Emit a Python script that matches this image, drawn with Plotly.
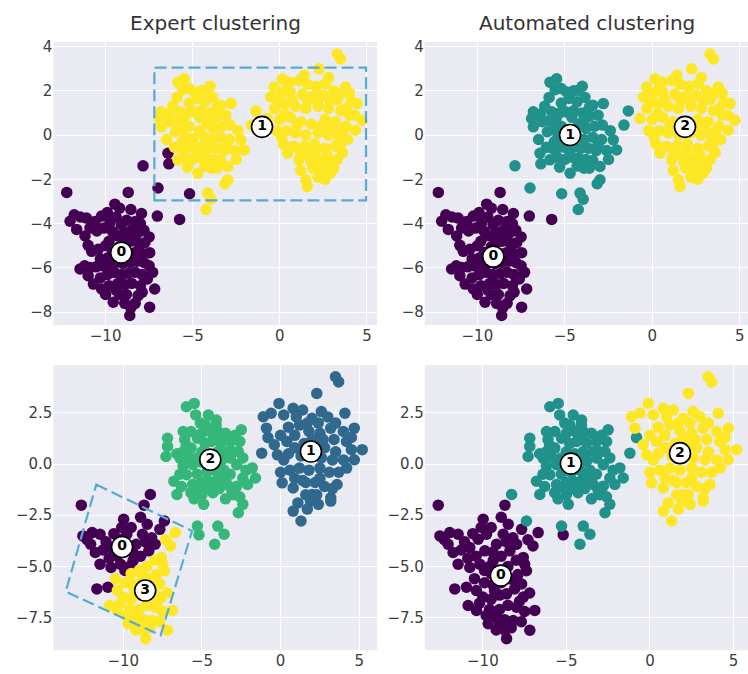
import plotly.graph_objects as go

FONT = "DejaVu Sans"
TEXT_COLOR = "#3c3c3c"
RECT_COLOR = "#55acd2"

VIRIDIS2 = ["#440154", "#fde725"]
VIRIDIS3 = ["#440154", "#21918c", "#fde725"]
VIRIDIS4 = ["#440154", "#31688e", "#35b779", "#fde725"]

# ---------------- upper sample: groups keyed by (expert label, automated label)
TOP_E0_A0 = [
    (-12.23, -2.59), (-8.70, -2.59), (-9.47, -3.12), (-8.55, -3.36), (-7.94, -3.54), (-7.03, -3.66), (-5.75, -3.81),
    (-12.04, -3.89), (-11.45, -3.70), (-11.10, -3.75), (-11.66, -4.26), (-11.18, -4.56), (-11.00, -4.98), (-10.42, -5.16),
    (-10.80, -5.25), (-10.23, -3.66), (-9.90, -3.50), (-9.75, -3.95), (-10.10, -4.20), (-10.50, -4.33), (-9.40, -3.70),
    (-9.10, -4.05), (-8.80, -3.85), (-8.30, -3.90), (-9.60, -4.35), (-9.30, -4.55), (-8.90, -4.40), (-8.50, -4.30),
    (-8.13, -4.41), (-7.80, -4.30), (-7.75, -4.86), (-8.10, -4.90), (-8.60, -4.80), (-9.00, -4.90), (-9.80, -4.80),
    (-10.00, -5.00), (-7.47, -5.31), (-7.90, -5.35), (-8.30, -5.30), (-8.70, -5.35), (-9.60, -5.30), (-9.90, -5.55),
    (-10.30, -5.60), (-11.47, -6.05), (-10.90, -5.98), (-10.55, -5.95), (-10.20, -5.90), (-9.80, -5.85), (-9.40, -5.75),
    (-9.00, -5.80), (-8.60, -5.75), (-8.20, -5.70), (-7.80, -5.75), (-7.50, -5.90), (-10.70, -6.73), (-10.30, -6.45),
    (-9.90, -6.30), (-9.50, -6.20), (-9.10, -6.30), (-8.70, -6.25), (-8.30, -6.20), (-7.90, -6.30), (-7.60, -6.50),
    (-10.23, -6.95), (-9.80, -6.80), (-9.30, -6.70), (-8.90, -6.75), (-8.50, -6.70), (-8.00, -6.80), (-7.18, -6.95),
    (-9.56, -7.55), (-9.20, -7.20), (-8.80, -7.20), (-8.13, -7.25), (-8.90, -7.60), (-8.55, -7.80), (-8.61, -8.15),
    (-7.47, -7.77), (-7.75, -6.50), (-11.80, -3.60), (-10.60, -3.90), (-9.20, -3.30), (-8.00, -4.00), (-7.50, -4.60),
    (-7.30, -6.20), (-10.90, -4.20), (-11.20, -5.90), (-10.00, -7.20), (-9.40, -7.00), (-8.30, -7.60), (-7.90, -7.10),
    (-11.00, -6.35), (-9.20, -5.05), (-8.40, -4.60),
]
TOP_E0_A1 = [(-7.85, -1.39), (-6.42, -0.82), (-6.37, -1.30), (-6.99, -2.39), (-5.18, -2.65)]
TOP_E1_A1 = [
    (-5.85, 2.39), (-5.47, 2.54), (-5.55, 2.05), (-4.90, 1.95), (-4.50, 2.00), (-4.23, 2.02), (-4.75, 1.65),
    (-5.20, 1.45), (-4.30, 1.50), (-3.85, 1.70), (-3.40, 1.35), (-2.80, 1.42), (-6.15, 1.30), (-5.75, 1.05),
    (-6.80, 1.05), (-6.90, 0.75), (-6.80, 0.37), (-6.30, 0.60), (-5.90, 0.65), (-5.50, 0.75), (-4.95, 1.05),
    (-4.50, 1.10), (-4.00, 1.00), (-3.60, 0.85), (-3.10, 0.90), (-2.85, 0.45), (-3.30, 0.40), (-1.37, 1.09),
    (-1.62, 0.45), (-6.00, 0.15), (-5.60, 0.25), (-5.20, 0.40), (-4.20, 0.50), (-3.80, 0.30), (-5.40, -0.10),
    (-4.95, -0.15), (-4.30, -0.10), (-3.90, -0.20), (-3.40, -0.10), (-2.90, -0.20), (-2.23, -0.22), (-6.05, -0.55),
    (-5.70, -0.60), (-5.30, -0.55), (-4.90, -0.60), (-4.50, -0.55), (-4.10, -0.60), (-3.65, -0.60), (-3.20, -0.70),
    (-2.60, -0.70), (-2.04, -0.67), (-5.85, -1.12), (-5.45, -1.00), (-5.00, -1.10), (-4.60, -1.00), (-4.20, -1.05),
    (-3.80, -1.10), (-3.40, -1.15), (-2.99, -1.42), (-5.30, -1.45), (-4.70, -1.72), (-4.30, -1.40), (-3.60, -1.50),
    (-2.99, -2.02), (-3.15, -2.20), (-4.13, -2.62), (-3.95, -2.90), (-4.23, -3.36), (-5.90, 1.70), (-5.20, 2.10),
    (-5.30, 1.00), (-4.60, 0.80), (-3.90, 0.65), (-4.60, 0.20), (-3.10, -0.45), (-2.50, -1.10), (-3.90, -1.50),
    (-5.60, -0.30), (-6.50, -0.20), (-6.40, 0.95), (-2.40, 0.20), (-3.60, 1.25), (-4.00, 2.20),
]
TOP_E1_A2 = [
    (3.30, 3.66), (3.49, 3.44), (2.25, 2.99), (2.63, 2.32), (3.77, 2.17), (0.15, 2.54), (0.55, 2.40), (1.10, 2.45),
    (1.60, 2.30), (2.10, 2.20), (3.10, 2.00), (-0.32, 2.17), (-0.51, 1.72), (0.10, 1.90), (0.60, 1.95), (1.30, 1.85),
    (1.90, 1.75), (2.50, 1.80), (3.30, 1.60), (4.10, 1.50), (4.44, 1.42), (-0.70, 0.75), (-0.30, 1.20), (0.30, 1.40),
    (0.90, 1.30), (1.50, 1.20), (2.20, 1.30), (2.80, 1.20), (3.50, 1.10), (4.00, 0.90), (0.00, 0.70), (0.60, 0.80),
    (1.20, 0.60), (2.60, 0.70), (3.20, 0.60), (3.80, 0.40), (4.72, 0.67), (4.34, 0.22), (-0.20, 0.20), (0.40, 0.20),
    (0.90, 0.10), (1.50, 0.00), (2.20, 0.10), (2.80, 0.00), (3.40, -0.10), (3.90, -0.20), (0.20, -0.40), (0.80, -0.50),
    (1.40, -0.50), (2.00, -0.40), (2.60, -0.60), (3.20, -0.50), (3.60, -0.80), (0.44, -0.82), (1.10, -1.12),
    (1.70, -0.95), (2.30, -1.10), (2.80, -1.20), (3.30, -1.10), (3.10, -1.50), (2.91, -1.72), (2.40, -1.60),
    (1.90, -1.50), (1.49, -2.02), (1.58, -2.32), (2.20, -1.90), (2.60, -2.00), (0.40, 2.10), (1.40, 2.70),
    (2.80, 2.60), (3.60, 1.90), (-0.10, 1.50), (0.70, 1.60), (1.60, 1.55), (2.20, 1.60), (2.90, 1.55), (3.80, 1.20),
    (0.30, 0.95), (1.00, 0.45), (1.80, 0.50), (2.40, 0.40), (3.00, 0.30), (3.60, 0.15), (4.30, 0.90), (0.10, -0.10),
    (1.20, -0.80), (2.00, -0.75), (2.70, -0.90), (3.50, -0.40), (1.80, -1.20), (2.50, -1.35), (1.20, -1.60),
    (4.00, 1.90),
]

# ---------------- lower sample: groups keyed by (expert label, automated label)
BOT_E0_A0 = [
    (-12.67, -2.01), (-8.68, -2.01), (-9.98, -2.70), (-8.48, -2.94), (-7.68, -3.19), (-12.57, -3.51), (-11.98, -3.35),
    (-11.48, -3.43), (-12.08, -3.92), (-11.78, -4.32), (-11.48, -4.89), (-10.78, -5.05), (-10.28, -3.67), (-10.78, -4.08),
    (-9.88, -4.24), (-9.18, -3.92), (-9.78, -3.43), (-7.98, -3.92), (-8.78, -3.43), (-10.18, -4.89), (-9.38, -4.72),
    (-8.38, -4.24), (-11.68, -6.10), (-10.98, -6.02), (-11.10, -3.80), (-10.40, -4.50), (-9.60, -5.00), (-8.90, -4.50),
    (-8.20, -3.60), (-9.50, -3.10), (-12.30, -3.70), (-11.30, -4.20), (-10.60, -3.40), (-9.40, -4.30), (-8.60, -3.80),
    (-10.10, -3.10), (-8.90, -2.60), (-10.90, -4.60), (-9.90, -5.20),
]
BOT_E3_A0 = [
    (-6.69, -3.35), (-7.58, -4.56), (-7.39, -5.21), (-7.68, -5.86), (-10.38, -6.18), (-10.88, -6.91), (-10.38, -7.15),
    (-9.68, -7.80), (-9.18, -7.48), (-8.68, -8.12), (-8.58, -8.53), (-8.18, -7.64), (-7.19, -8.12), (-6.89, -7.15),
    (-7.58, -6.50), (-7.98, -6.99), (-8.58, -6.34), (-9.50, -5.35), (-9.00, -5.20), (-8.50, -5.00), (-8.00, -4.70),
    (-7.90, -5.40), (-8.40, -5.60), (-8.90, -5.80), (-9.40, -5.90), (-9.90, -5.80), (-10.00, -6.50), (-9.50, -6.60),
    (-9.00, -6.40), (-8.50, -6.90), (-9.00, -7.10), (-9.60, -7.10), (-7.50, -7.20), (-8.10, -6.10), (-7.20, -6.30),
    (-7.00, -4.00), (-7.30, -3.70), (-10.50, -5.60), (-8.70, -7.60), (-9.20, -8.10), (-9.80, -7.40), (-8.30, -8.00),
    (-7.70, -7.70), (-8.00, -5.90), (-7.50, -4.90), (-9.30, -6.20), (-10.20, -6.80), (-8.80, -5.40), (-7.80, -6.70),
    (-9.00, -7.80),
]
BOT_E2_A0 = [(-5.19, -3.46)]
BOT_E0_A1 = [(-8.28, -1.49), (-7.39, -2.78)]
BOT_E2_A1 = [
    (-5.99, 2.80), (-5.49, 2.96), (-4.59, 2.39), (-4.09, 2.15), (-4.79, 1.91), (-4.49, 1.59), (-3.99, 1.59),
    (-6.19, 1.59), (-7.19, 1.26), (-7.19, 0.86), (-7.29, 0.37), (-5.69, 1.59), (-5.29, 1.26), (-5.69, 0.78),
    (-4.39, 1.10), (-3.79, 1.02), (-3.19, 1.10), (-2.50, 1.67), (-2.59, 1.10), (-2.69, 0.61), (-6.39, 0.29),
    (-5.89, 0.37), (-5.59, -0.03), (-3.79, 0.13), (-3.19, 0.29), (-2.79, -0.03), (-1.80, -0.19), (-1.60, -0.68),
    (-6.79, -0.84), (-6.59, -1.49), (-5.99, -0.52), (-5.59, -1.00), (-5.19, -1.17), (-4.59, -0.84), (-3.99, -0.68),
    (-3.39, -1.00), (-2.79, -1.08), (-2.40, -0.68), (-4.89, -1.97), (-2.40, -1.97), (-2.69, -2.38), (-5.29, -3.03),
    (-3.99, -3.03), (-3.59, -3.43), (-4.19, -3.92), (-5.00, 0.60), (-4.50, 0.50), (-4.20, 0.10), (-5.10, 0.10),
    (-4.70, -0.40), (-5.30, -0.50), (-4.20, -0.30), (-3.60, -0.30), (-3.40, 0.60), (-4.00, 0.60), (-6.20, -0.10),
    (-6.60, 0.50), (-6.00, 0.90), (-5.00, 1.50), (-4.10, 1.90), (-3.50, 1.50), (-3.00, 0.60), (-6.30, -1.10),
    (-5.70, -1.40), (-4.30, -1.40), (-3.90, -1.20), (-3.00, -1.50), (-5.00, -1.50), (-2.20, -0.30), (-3.20, -0.50),
    (-5.40, 2.40), (-5.10, 2.00), (-6.10, 1.20), (-4.80, 1.00), (-4.10, 1.25), (-2.90, 1.40), (-6.20, 0.60),
    (-5.30, 0.30), (-3.90, 0.35), (-2.40, 0.30), (-6.40, -0.50), (-5.00, -0.90), (-4.30, -0.90), (-3.60, -0.80),
    (-3.10, -1.30), (-2.10, -1.00), (-4.70, -1.20), (-5.50, -1.70), (-3.50, -1.70), (-2.60, -1.60),
]
BOT_E1_A1 = [(-0.80, 1.29), (-1.20, 0.53)]
BOT_E1_A2 = [
    (3.49, 4.26), (3.69, 4.01), (2.30, 3.45), (4.09, 2.48), (2.59, 2.56), (-0.10, 2.96), (-0.60, 2.48), (-1.10, 2.31),
    (-0.90, 1.75), (0.80, 2.72), (1.40, 2.64), (2.00, 2.23), (4.69, 1.75), (5.19, 0.70), (4.69, 0.21), (0.10, -0.92),
    (0.80, -1.17), (2.00, -1.49), (3.59, -1.00), (3.19, -1.65), (2.40, -1.97), (0.80, -2.30), (1.30, -2.78),
    (3.99, 1.59), (3.19, 1.75), (4.19, 1.10), (-0.40, 0.94), (-0.20, 0.45), (0.40, 1.10), (0.50, 1.80), (1.20, 1.90),
    (1.80, 1.60), (2.50, 1.50), (3.00, 2.30), (0.20, 0.20), (0.90, 0.80), (1.50, 1.00), (2.20, 0.90), (2.80, 0.80),
    (3.50, 0.60), (4.00, 0.20), (0.60, -0.30), (1.20, -0.20), (1.80, -0.30), (2.50, -0.20), (3.10, -0.40),
    (3.70, -0.40), (1.40, -0.80), (2.20, -0.90), (2.80, -1.10), (1.60, -1.50), (1.70, -2.20), (3.19, -1.81),
    (0.20, 2.40), (1.00, 2.30), (1.70, 2.00), (2.40, 2.00), (3.50, 2.00), (0.00, 1.40), (0.90, 1.40), (2.00, 1.20),
    (2.70, 1.20), (3.40, 1.20), (4.50, 1.30), (0.50, 0.50), (1.30, 0.40), (2.60, 0.30), (3.30, 0.20), (4.50, 0.70),
    (0.00, -0.40), (0.90, -0.70), (1.60, -0.90), (2.50, -0.70), (3.30, -1.20), (2.30, -1.50), (1.10, -1.90),
    (1.90, -1.80), (4.20, -0.20),
]

# cluster-id badges
TOP_EXPERT_CENTERS = [(-9.10, -5.31), (-1.02, 0.37)]
TOP_AUTO_CENTERS = [(-9.09, -5.49), (-4.70, 0.00), (1.87, 0.37)]
BOT_EXPERT_CENTERS = [(-10.08, -4.05), (1.93, 0.61), (-4.47, 0.21), (-8.61, -6.18)]
BOT_AUTO_CENTERS = [(-8.92, -5.45), (-4.73, 0.02), (1.80, 0.53)]

# hand-drawn expert regions
TOP_EXPERT_BOX = (-7.2, -2.95, 4.95, 3.05)
BOT_EXPERT_BOX = [(-11.72, -1.00), (-5.63, -3.27), (-7.63, -8.37), (-13.66, -6.23)]

TOP_X_TICKS = [-10, -5, 0, 5]
TOP_Y_TICKS = [-8, -6, -4, -2, 0, 2, 4]
BOT_Y_TICKS = [-7.5, -5.0, -2.5, 0.0, 2.5]

# panel layout: (axis suffix, x domain, y domain, x range, y range)
PANELS = {
    "tl": ("", [0.0713, 0.504], [0.5208, 0.9432], [-13.0, 5.58], [-8.58, 4.2]),
    "tr": ("2", [0.568, 1.0], [0.5208, 0.9432], [-13.0, 5.47], [-8.58, 4.2]),
    "bl": ("3", [0.0713, 0.504], [0.0356, 0.461], [-14.45, 6.13], [-9.09, 4.83]),
    "br": ("4", [0.568, 1.0], [0.0356, 0.461], [-13.47, 5.87], [-9.09, 4.83]),
}


def scatter_groups(groups, palette, suffix):
    xs, ys, cs = [], [], []
    for pts, label in groups:
        for x, y in pts:
            xs.append(x)
            ys.append(y)
            cs.append(palette[label])
    return go.Scatter(
        x=xs, y=ys, mode="markers", xaxis="x" + suffix, yaxis="y" + suffix,
        marker=dict(size=11.5, color=cs, line=dict(width=0)), hoverinfo="skip",
    )


def badges(centers, suffix):
    return go.Scatter(
        x=[c[0] for c in centers], y=[c[1] for c in centers],
        text=[str(i) for i in range(len(centers))], mode="markers+text",
        textposition="middle center", xaxis="x" + suffix, yaxis="y" + suffix,
        marker=dict(size=21, color="white", line=dict(color="black", width=1.6)),
        textfont=dict(family=FONT, size=14, color="black", weight="bold"),
        hoverinfo="skip",
    )


fig = go.Figure()
fig.add_trace(scatter_groups(
    [(TOP_E0_A0, 0), (TOP_E0_A1, 0), (TOP_E1_A1, 1), (TOP_E1_A2, 1)], VIRIDIS2, ""))
fig.add_trace(badges(TOP_EXPERT_CENTERS, ""))
fig.add_trace(scatter_groups(
    [(TOP_E0_A0, 0), (TOP_E0_A1, 1), (TOP_E1_A1, 1), (TOP_E1_A2, 2)], VIRIDIS3, "2"))
fig.add_trace(badges(TOP_AUTO_CENTERS, "2"))
fig.add_trace(scatter_groups(
    [(BOT_E0_A0, 0), (BOT_E3_A0, 3), (BOT_E2_A0, 2), (BOT_E0_A1, 0),
     (BOT_E2_A1, 2), (BOT_E1_A1, 1), (BOT_E1_A2, 1)], VIRIDIS4, "3"))
fig.add_trace(badges(BOT_EXPERT_CENTERS, "3"))
fig.add_trace(scatter_groups(
    [(BOT_E0_A0, 0), (BOT_E3_A0, 0), (BOT_E2_A0, 0), (BOT_E0_A1, 1),
     (BOT_E2_A1, 1), (BOT_E1_A1, 1), (BOT_E1_A2, 2)], VIRIDIS3, "4"))
fig.add_trace(badges(BOT_AUTO_CENTERS, "4"))

x0, y0, x1, y1 = TOP_EXPERT_BOX
fig.add_shape(type="rect", xref="x", yref="y", x0=x0, y0=y0, x1=x1, y1=y1,
              line=dict(color=RECT_COLOR, width=2.2, dash="12px,5px"), layer="above")
path = "M " + " L ".join(f"{x},{y}" for x, y in BOT_EXPERT_BOX) + " Z"
fig.add_shape(type="path", xref="x3", yref="y3", path=path,
              line=dict(color=RECT_COLOR, width=2.2, dash="12px,5px"), layer="above")

layout = dict(
    width=748, height=674, margin=dict(l=0, r=0, t=0, b=0),
    paper_bgcolor="white", plot_bgcolor="#EAEAF2", showlegend=False,
    font=dict(family=FONT, color=TEXT_COLOR),
)
for key, (sfx, xdom, ydom, xr, yr) in PANELS.items():
    top = key in ("tl", "tr")
    layout["xaxis" + sfx] = dict(
        domain=xdom, range=xr, anchor="y" + sfx, tickvals=TOP_X_TICKS,
        showgrid=True, gridcolor="white", gridwidth=1.3, zeroline=False, showline=False,
        ticks="", tickfont=dict(size=15, color=TEXT_COLOR), fixedrange=True,
    )
    layout["yaxis" + sfx] = dict(
        domain=ydom, range=yr, anchor="x" + sfx,
        tickvals=TOP_Y_TICKS if top else BOT_Y_TICKS,
        tickformat="d" if top else ".1f",
        showgrid=True, gridcolor="white", gridwidth=1.3, zeroline=False, showline=False,
        ticks="", tickfont=dict(size=15, color=TEXT_COLOR), fixedrange=True,
    )
fig.update_layout(**layout)

for text, xc in (("Expert clustering", 215 / 748), ("Automated clustering", 587 / 748)):
    fig.add_annotation(text=text, x=xc, y=0.971, xref="paper", yref="paper",
                       showarrow=False, xanchor="center", yanchor="middle",
                       font=dict(family=FONT, size=20, color="#333333"))

fig.write_html("out.html")
